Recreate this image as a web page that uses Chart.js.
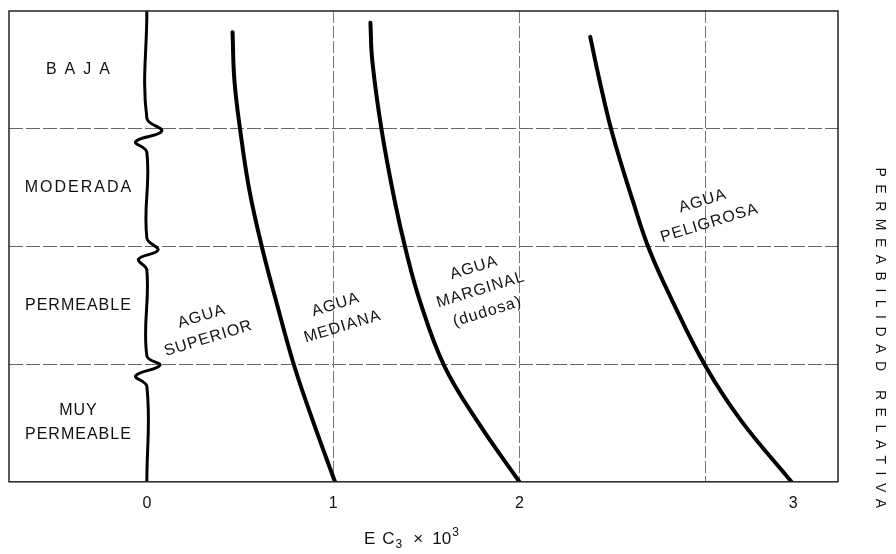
<!DOCTYPE html>
<html>
<head>
<meta charset="utf-8">
<script src="https://cdn.jsdelivr.net/npm/chart.js@4/dist/chart.umd.min.js"></script>
<style>
  body { margin: 0; background: #fff; }
  canvas { display: block; }
</style>
</head>
<body>
<canvas id="permCanvas" width="896" height="554"></canvas>
<script>
// Datos (unidades del eje)
const xGridValues = [1, 2, 3];
const xTickValues = [0, 1, 2, 3.47];
const xTickLabels = ["0", "1", "2", "3"];

const rowLabels = [["BAJA"], ["MODERADA"], ["PERMEABLE"], ["MUY", "PERMEABLE"]];
const rowCenters = [3.5, 2.5, 1.5, 0.5];

// Curvas limite entre clases de agua
const curve1X = [0.46, 0.47, 0.50, 0.55, 0.62, 0.70, 0.79, 0.895, 1.01];
const curve1Y = [3.82, 3.41, 3.0, 2.48, 1.98, 1.50, 0.99, 0.50, 0];
const curve2X = [1.20, 1.21, 1.26, 1.33, 1.39, 1.465, 1.595, 1.78, 2.0];
const curve2Y = [3.90, 3.58, 2.99, 2.39, 1.97, 1.54, 0.99, 0.50, 0];
const curve3X = [2.38, 2.43, 2.50, 2.61, 2.70, 2.82, 3.00, 3.19, 3.46];
const curve3Y = [3.78, 3.41, 2.95, 2.38, 1.96, 1.54, 0.98, 0.52, 0];

// Linea ondulada en el cero
const waveX = [0, 0, 0.08, -0.06, 0, 0, 0.06, -0.045, 0, 0, 0.07, -0.06, 0, 0];
const waveY = [4.0, 3.09, 2.98, 2.89, 2.80, 2.07, 1.97, 1.89, 1.80, 1.07, 0.99, 0.90, 0.81, 0];

const classLabels = [["AGUA", "SUPERIOR"], ["AGUA", "MEDIANA"], ["AGUA", "MARGINAL", "(dudosa)"], ["AGUA", "PELIGROSA"]];
const classX = [0.31, 1.03, 1.79, 3.0];
const classY = [1.31, 1.41, 1.63, 2.29];

const FONT = "'Liberation Sans', Arial, sans-serif";

function toPoints(xs, ys) {
  return xs.map((x, i) => ({ x: x, y: ys[i] }));
}

function lineSet(xs, ys, width) {
  return {
    data: toPoints(xs, ys),
    showLine: true,
    borderColor: "#000",
    borderWidth: width,
    pointRadius: 0,
    tension: 0.4,
    borderCapStyle: "round",
    fill: false
  };
}

// Textos del grafico
const labelsPlugin = {
  id: "labelsPlugin",
  afterDraw(chart) {
    const ctx = chart.ctx;
    const xs = chart.scales.x;
    const ys = chart.scales.y;
    const area = chart.chartArea;

    ctx.save();
    // marco
    ctx.strokeStyle = "#222";
    ctx.lineWidth = 1.5;
    ctx.strokeRect(area.left, area.top, area.right - area.left, area.bottom - area.top);

    ctx.fillStyle = "#111";
    ctx.textAlign = "center";
    ctx.textBaseline = "middle";

    // filas de permeabilidad
    const rowX = (area.left + xs.getPixelForValue(0)) / 2;
    rowLabels.forEach((lines, i) => {
      const cy = ys.getPixelForValue(rowCenters[i]);
      lines.forEach((txt, j) => {
        const sp = txt === "BAJA" ? 8 : (txt === "MODERADA" ? 2 : 1);
        ctx.font = "16px " + FONT;
        ctx.letterSpacing = sp + "px";
        ctx.fillText(txt, rowX + sp / 2, cy + (j - (lines.length - 1) / 2) * 24);
      });
    });

    // clases de agua (giradas)
    ctx.font = "16px " + FONT;
    ctx.letterSpacing = "1px";
    classLabels.forEach((lines, i) => {
      ctx.save();
      ctx.translate(xs.getPixelForValue(classX[i]), ys.getPixelForValue(classY[i]));
      ctx.rotate(-17 * Math.PI / 180);
      lines.forEach((txt, j) => {
        ctx.fillText(txt, 0.5, (j - (lines.length - 1) / 2) * 23);
      });
      ctx.restore();
    });

    // titulo vertical derecho
    ctx.save();
    ctx.font = "14px " + FONT;
    ctx.letterSpacing = "7.5px";
    ctx.translate(880, 338);
    ctx.rotate(Math.PI / 2);
    ctx.fillText("PERMEABILIDAD RELATIVA", 3.5, 0);
    ctx.restore();

    // titulo del eje x: E C3 x 10^3
    ctx.letterSpacing = "0px";
    ctx.textAlign = "left";
    ctx.textBaseline = "alphabetic";
    const base = 544;
    let px = 364;
    const parts = [
      { t: "E", size: 17, dy: 0, gap: 7 },
      { t: "C", size: 17, dy: 0, gap: 1 },
      { t: "3", size: 12, dy: 4, gap: 11 },
      { t: "\u00d7", size: 17, dy: 0, gap: 9 },
      { t: "10", size: 17, dy: 0, gap: 1 },
      { t: "3", size: 12, dy: -8, gap: 0 }
    ];
    parts.forEach(p => {
      ctx.font = p.size + "px " + FONT;
      ctx.fillText(p.t, px, base + p.dy);
      px += ctx.measureText(p.t).width + p.gap;
    });
    ctx.restore();
  }
};

const ctx = document.getElementById("permCanvas").getContext("2d");

new Chart(ctx, {
  type: "scatter",
  data: {
    datasets: [
      lineSet(waveX, waveY, 3),
      lineSet(curve1X, curve1Y, 4),
      lineSet(curve2X, curve2Y, 4),
      lineSet(curve3X, curve3Y, 4)
    ]
  },
  options: {
    responsive: false,
    animation: false,
    devicePixelRatio: 1,
    layout: { padding: { left: 9, top: 11, right: 58, bottom: 29 } },
    plugins: {
      legend: { display: false },
      tooltip: { enabled: false }
    },
    scales: {
      x: {
        type: "linear",
        min: -0.74,
        max: 3.71,
        afterBuildTicks: axis => {
          const vals = [...new Set([...xGridValues, ...xTickValues])].sort((a, b) => a - b);
          axis.ticks = vals.map(v => ({ value: v }));
        },
        ticks: {
          autoSkip: false,
          maxRotation: 0,
          padding: 12,
          color: "#111",
          font: { size: 16, family: FONT },
          callback: value => {
            const i = xTickValues.indexOf(value);
            return i >= 0 ? xTickLabels[i] : "";
          }
        },
        grid: {
          drawTicks: false,
          lineWidth: 1,
          color: c => (c.tick && xGridValues.includes(c.tick.value)) ? "#777" : "rgba(0,0,0,0)"
        },
        border: { display: false, dash: [12, 3] }
      },
      y: {
        type: "linear",
        min: 0,
        max: 4,
        ticks: { display: false, stepSize: 1 },
        grid: {
          drawTicks: false,
          lineWidth: 1,
          color: c => (c.tick && c.tick.value > 0 && c.tick.value < 4) ? "#666" : "rgba(0,0,0,0)"
        },
        border: { display: false, dash: [14, 3] }
      }
    }
  },
  plugins: [labelsPlugin]
});
</script>
</body>
</html>
